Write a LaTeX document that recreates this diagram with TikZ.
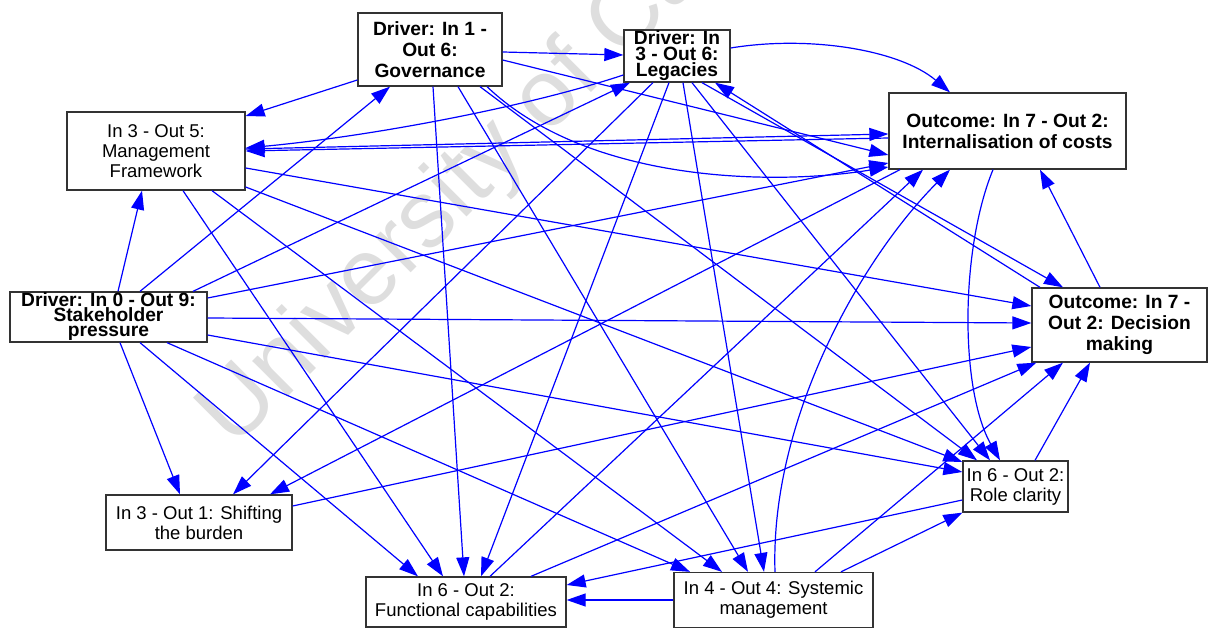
\documentclass[tikz,border=0pt]{standalone}
\usepackage{fontspec}
\setmainfont{Liberation Sans}
\usetikzlibrary{arrows.meta,calc}
\begin{document}
\begin{tikzpicture}[x=1pt,y=-1pt,
  box/.style={draw=black!80, line width=1.3pt, fill=white, rectangle, inner sep=0pt,
    align=center, font=\fontsize{18.5}{20}\selectfont},
  bbox/.style={box, font=\fontsize{19.2}{21}\selectfont\bfseries},
  size/.style 2 args={minimum width=#1pt, minimum height=#2pt},
  link/.style={draw=blue, line width=1.2pt, -{Triangle[length=19pt,width=13pt]}},
]
\useasboundingbox (0,0) rectangle (1208,628);

% faint watermark behind the graph
\node[rotate=45, anchor=base west, text=black!13, font=\fontsize{95}{95}\selectfont]
  (wm) at (232,452) {University of Ca};

% factors
\node[bbox, size={144}{73}] (gov) at (430,49.5) {Driver: In 1 -\\Out 6:\\Governance};
\node[bbox, size={106}{52}, font=\fontsize{19.2}{16}\selectfont\bfseries] (leg) at (677,56) {Driver: In\\3 - Out 6:\\Legacies};
\node[bbox, size={237}{76}] (int) at (1007.5,131) {Outcome: In 7 - Out 2:\\Internalisation of costs};
\node[box, size={178}{78}] (mf) at (156,151) {In 3 - Out 5:\\Management\\Framework};
\node[bbox, size={197}{50}, font=\fontsize{19.2}{15}\selectfont\bfseries] (sp) at (108.5,317) {Driver: In 0 - Out 9:\\Stakeholder\\pressure};
\node[bbox, size={175}{74}] (dm) at (1119.5,325) {Outcome: In 7 -\\Out 2: Decision\\making};
\node[box, size={186}{55}] (shift) at (199,522.5) {In 3 - Out 1: Shifting\\the burden};
\node[box, size={105}{51}] (rc) at (1015.5,486.5) {In 6 - Out 2:\\Role clarity};
\node[box, size={200}{50}] (fc) at (466,602) {In 6 - Out 2:\\Functional capabilities};
\node[box, size={199}{55}] (sm) at (773.5,600) {In 4 - Out 4: Systemic\\management};

% links leaving stakeholder pressure
\draw[link] ([xshift=9.5pt]sp.north) -- ([xshift=-14pt]mf.south);
\draw[link] ([xshift=31.5pt]sp.north) -- ([xshift=-40pt]gov.south);
\draw[link] ([xshift=84.5pt]sp.north) -- ([xshift=-47pt]leg.south);
\draw[link] ([yshift=19pt]sp.east) -- ([yshift=-32pt]int.west);
\draw[link] ([yshift=-1pt]sp.east) -- ([yshift=2pt]dm.west);
\draw[link] ([yshift=-18pt]sp.east) -- ([yshift=14.5pt]rc.west);
\draw[link] ([xshift=11.5pt]sp.south) -- ([xshift=-19pt]shift.north);
\draw[link] ([xshift=31.5pt]sp.south) -- ([xshift=-48pt]fc.north);
\draw[link] ([xshift=58.5pt]sp.south) -- ([xshift=-83.5pt]sm.north);

% links leaving governance
\draw[link] ([yshift=-2.5pt]gov.east) -- ([yshift=1pt]leg.west);
\draw[link] ([yshift=-30.5pt]gov.west) -- ([yshift=35pt]mf.east);
\draw[link] ([xshift=3pt]gov.south) -- ([xshift=-2pt]fc.north);
\draw[link] ([xshift=28pt]gov.south) -- ([xshift=-25.5pt]sm.north);
\draw[link] ([xshift=50pt]gov.south) -- ([xshift=-38.5pt]rc.north);
\draw[link] ([yshift=-10.5pt]gov.east) -- ([yshift=-24pt]int.west);
\draw[link] ([xshift=57pt]gov.south) .. controls (590,185) and (780,185) .. ([yshift=-36pt]int.west);

% links leaving legacies
\draw[link] ([yshift=-19pt]leg.west) .. controls (524,108) and (365,137) .. ([yshift=3pt]mf.east);
\draw[link] ([yshift=8pt]leg.east) .. controls (810,35) and (900,50) .. ([xshift=-57.5pt]int.north);
\draw[link] ([xshift=-8pt]leg.south) -- ([xshift=15pt]fc.north);
\draw[link] ([xshift=6pt]leg.south) -- ([xshift=-9.5pt]sm.north);
\draw[link] ([xshift=15pt]leg.south) -- ([xshift=-25.5pt]rc.north);
\draw[link] ([xshift=-24pt]leg.south) -- ([xshift=34pt]shift.north);
\draw[link] ([xshift=25pt]leg.south) -- ([xshift=-56.5pt]dm.north);

% links leaving management framework
\draw[link] ([yshift=2pt]mf.east) -- ([yshift=-3pt]int.west);
\draw[link] ([yshift=-17pt]mf.east) -- ([yshift=19pt]dm.west);
\draw[link] ([yshift=-36pt]mf.east) -- ([yshift=24.5pt]rc.west);
\draw[link] ([xshift=27pt]mf.south) -- ([xshift=-23pt]fc.north);
\draw[link] ([xshift=56pt]mf.south) -- ([xshift=-51.5pt]sm.north);

% links leaving internalisation of costs
\draw[link] ([yshift=-7pt]int.west) -- (mf.east);
\draw[link] ([xshift=-14.5pt]int.south) .. controls (960,250) and (960,390) .. ([xshift=-15.5pt]rc.north);
\draw[link] ([xshift=-107.5pt]int.south) -- ([xshift=71pt]shift.north);

% links leaving decision making
\draw[link] ([xshift=-19.5pt]dm.north) -- ([xshift=32.5pt]int.south);
\draw[link] ([xshift=-79.5pt]dm.north) -- ([xshift=38pt]leg.south);

% link leaving shifting the burden
\draw[link] ([yshift=16.5pt]shift.east) -- ([yshift=-22pt]dm.west);

% links leaving functional capabilities
\draw[link] ([xshift=65pt]fc.north) -- ([xshift=5pt]dm.south west);
\draw[link] ([xshift=24pt]fc.north) -- ([xshift=-84.5pt]int.south);

% links leaving systemic management
\draw[link] (sm.west) -- ([yshift=2pt]fc.east);
\draw[link] ([xshift=1.5pt]sm.north) .. controls (770,420) and (860,260) .. ([xshift=-57.5pt]int.south);
\draw[link] ([xshift=41.5pt]sm.north) -- ([xshift=-56.5pt]dm.south);
\draw[link] ([xshift=67.5pt]sm.north) -- (rc.south west);

% links leaving role clarity
\draw[link] ([xshift=19.5pt]rc.north) -- ([xshift=-29.5pt]dm.south);
\draw[link] ([yshift=-13.5pt]rc.west) -- ([yshift=17pt]fc.east);
\end{tikzpicture}
\end{document}
